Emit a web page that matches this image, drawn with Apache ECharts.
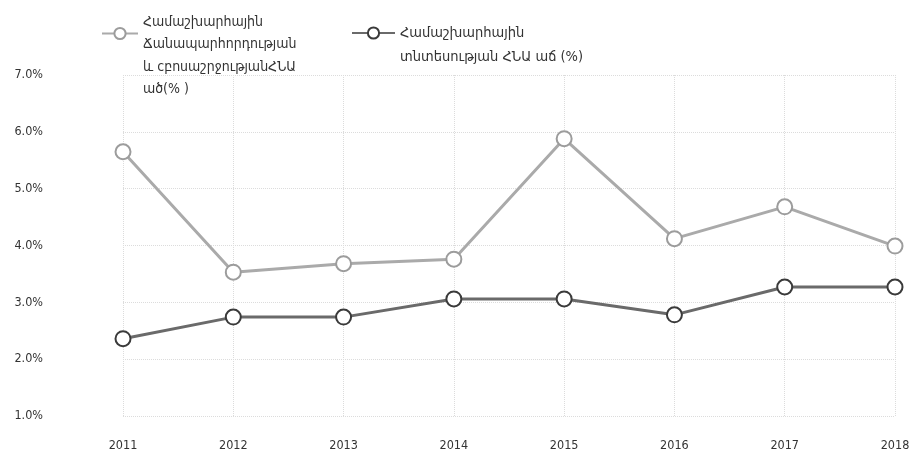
<!DOCTYPE html>
<html>
<head>
<meta charset="utf-8">
<script src="https://cdn.jsdelivr.net/npm/echarts@6/dist/echarts.min.js"></script>
<style>html,body{margin:0;padding:0;background:#fff;}#c{width:918px;height:459px;}</style>
</head>
<body>
<div id="c"></div>
<script>
const years = ['2011','2012','2013','2014','2015','2016','2017','2018'];
const tourismName = 'Համաշխարհային\nՃանապարհորդության\nև cբոսաշրջությանՀՆԱ\nած(% )';
const economyName = 'Համաշխարհային\nտնտեսության ՀՆԱ աճ (%)';
const tourismGrowth = [5.65, 3.53, 3.68, 3.76, 5.88, 4.12, 4.68, 3.99];
const economyGrowth = [2.36, 2.74, 2.74, 3.06, 3.06, 2.78, 3.27, 3.27];
const yTicks = [1, 2, 3, 4, 5, 6, 7];

const chart = echarts.init(document.getElementById('c'), null, {renderer: 'canvas'});
const font = 'DejaVu Sans Condensed, DejaVu Sans, sans-serif';
const axisFont = 'Liberation Sans Narrow, DejaVu Sans Condensed, sans-serif';
chart.setOption({
  backgroundColor: '#fff',
  animation: false,
  legend: [
    {
      data: [tourismName], left: 101, top: -34, padding: 0, itemWidth: 36, itemHeight: 14, itemGap: 0,
      formatter: n => '\n\n' + n,
      textStyle: {color: '#333', fontFamily: font, fontSize: 14, lineHeight: 22.5}
    },
    {
      data: [economyName], left: 351, top: -3, padding: 0, itemWidth: 43, itemHeight: 14, itemGap: 0,
      formatter: n => '\n' + n,
      textStyle: {color: '#333', fontFamily: font, fontSize: 14.5, lineHeight: 24}
    }
  ],
  grid: {left: 123, right: 23, top: 75, bottom: 43},
  xAxis: {
    type: 'category', data: years, boundaryGap: false,
    axisLine: {show: false}, axisTick: {show: false},
    axisLabel: {margin: 23, color: '#333', fontSize: 12.5, fontFamily: axisFont},
    splitLine: {show: true, lineStyle: {color: '#dcdcdc', type: 'dotted', width: 1}}
  },
  yAxis: {
    type: 'value', min: yTicks[0], max: yTicks[yTicks.length - 1], interval: 1,
    axisLine: {show: false}, axisTick: {show: false},
    axisLabel: {margin: 80, color: '#333', fontSize: 12.5, fontFamily: axisFont,
      formatter: v => v.toFixed(1) + '%'},
    splitLine: {show: true, lineStyle: {color: '#dcdcdc', type: 'dotted', width: 1}}
  },
  series: [
    {
      name: tourismName, type: 'line', data: tourismGrowth,
      symbol: 'emptyCircle', symbolSize: 15,
      lineStyle: {color: '#aaaaaa', width: 3},
      itemStyle: {color: '#9c9c9c', borderWidth: 3}
    },
    {
      name: economyName, type: 'line', data: economyGrowth,
      symbol: 'emptyCircle', symbolSize: 15,
      lineStyle: {color: '#6a6a6a', width: 3},
      itemStyle: {color: '#3a3a3a', borderWidth: 3}
    }
  ]
});
</script>
</body>
</html>
